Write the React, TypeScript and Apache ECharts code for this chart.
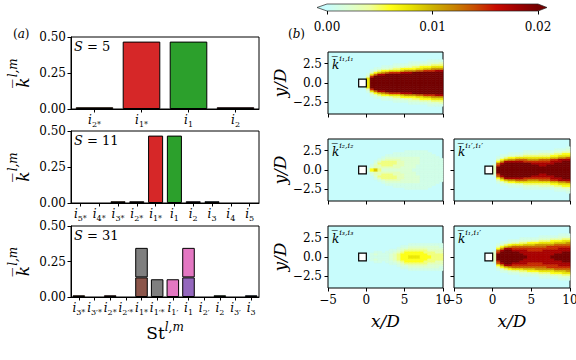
import React, { useEffect, useRef } from 'react';
import * as echarts from 'echarts';

const SERIF = '"DejaVu Serif", "Liberation Serif", serif';

// ---------- bar panels (a) ----------
const S_LABELS = ['5', '11', '31'];

const CATS_S5 = ['2*', '1*', '1', '2'];
const VALUES_S5 = [0.012, 0.468, 0.468, 0.012];
const COLORS_S5 = ['#ff7f0e', '#d62728', '#2ca02c', '#d62728'];

const CATS_S11 = ['5*', '4*', '3*', '2*', '1*', '1', '2', '3', '4', '5'];
const VALUES_S11 = [null, null, 0.012, 0.012, 0.468, 0.468, 0.012, 0.012, null, null];
const COLORS_S11 = ['#ff7f0e', '#ff7f0e', '#ff7f0e', '#8c564b', '#d62728', '#2ca02c', '#9467bd', '#1f77b4', '#1f77b4', '#1f77b4'];

const CATS_S31 = ['3*', '3′*', '2*', '2′*', '1*', '1′*', '1′', '1', '2′', '2', '3′', '3'];
const LOWER_S31 = [0.012, null, 0.012, null, 0.138, 0.125, 0.125, 0.138, null, 0.012, null, 0.012];
const LOWER_COLORS_S31 = ['#ff7f0e', '#7f7f7f', '#d62728', '#7f7f7f', '#8c564b', '#7f7f7f', '#e377c2', '#9467bd', '#7f7f7f', '#2ca02c', '#7f7f7f', '#1f77b4'];
const UPPER_S31 = [null, null, null, null, 0.208, null, null, 0.208, null, null, null, null];
const UPPER_COLORS_S31 = ['#7f7f7f', '#7f7f7f', '#7f7f7f', '#7f7f7f', '#7f7f7f', '#7f7f7f', '#e377c2', '#e377c2', '#e377c2', '#e377c2', '#e377c2', '#e377c2'];

// ---------- colour scale (b) ----------
const SCALE_MIN = 0;
const SCALE_MAX = 0.02;
const SCALE_TICK = 0.01;
const PALETTE = ['#c8fcfc', '#dcffd4', '#eeffa0', '#ffff18', '#e6e000', '#cdb200', '#c88400', '#c84c00', '#c80a00', '#a00000', '#740000'];

// ---------- wake fields (b) ----------
// columns from x/D = 0 to 10 (step 0.5); each string runs from y/D = 0 outward (step 0.25), mirrored about y/D = 0
const FIELD_X0 = 0;
const FIELD_DX = 0.5;
const FIELD_DY = 0.25;
const LEVEL_KEYS = '0123456789abc';
const LEVEL_VALUES = [0, 0.001, 0.002, 0.003, 0.0045, 0.006, 0.0075, 0.009, 0.011, 0.013, 0.015, 0.0175, 0.02];
const CYLINDER = [-1, -0.5, 0, 0.5];

const FIELD_I1_I1 = [
  '6663100000000000', 'ccca631000000000', 'cccc952100000000', 'ccccb74100000000',
  'ccccb85210000000', 'ccccc95210000000', 'ccccca6310000000', 'ccccca6421000000',
  'ccccca6421000000', 'cccccb7521000000', 'cccccb8531000000', 'cccccb8532100000',
  'cccccc8542100000', 'cccccc9642100000', 'cccccc9653100000', 'cccccca753100000',
  'cccccca753210000', 'cccccca864210000', 'ccccccb864210000', 'ccccccb864310000',
];
const FIELD_I2_I2 = [
  '1000000000000000', '5210000000000000', '7332100000000000', '4334310000000000',
  '2344421000000000', '2344432100000000', '2344432100000000', '2334432110000000',
  '2333332110000000', '2233322110000000', '2222222111000000', '2222222111000000',
  '1222222111000000', '1112222111000000', '1111111111000000', '1111111111000000',
  '1111111110000000', '1111111100000000', '1111111000000000', '1111110000000000',
];
const FIELD_I1P_I1P = [
  '3320000000000000', 'cca9531000000000', 'cccb852100000000', 'ccccb74100000000',
  'ccccb85210000000', 'ccccb85210000000', 'ccccb96310000000', 'ccccb96310000000',
  'cccca96421000000', 'cccca86421000000', 'cccba86421000000', 'cccba86421000000',
  'ccbba96431000000', 'ccbba96431000000', 'cccba96431000000', 'cccbba7531000000',
  'ccccba7542100000', 'ccccbb8642100000', 'cccccb8653100000', 'cccccb9653210000',
];
const FIELD_I3_I3 = [
  '0000000000000000', '1100000000000000', '1210000000000000', '1110000000000000',
  '1100000000000000', '1110000000000000', '2211000000000000', '3321000000000000',
  '4432100000000000', '5543210000000000', '5554210000000000', '6554321000000000',
  '6554321000000000', '6554321000000000', '5554321000000000', '5544321000000000',
  '5443221000000000', '4443221000000000', '4433221000000000', '4433211000000000',
];
const FIELD_I1_I1P = [
  '3320000000000000', 'cca9531000000000', 'cccb852100000000', 'ccccb74100000000',
  'ccccb85210000000', 'cccba96310000000', 'cccba96310000000', 'ccbba96421000000',
  'cbbba97421000000', 'bbbaa97521000000', 'bbbaa97531000000', 'bbbaa98531000000',
  'bbbaa98642100000', 'bbbba98642100000', 'bbbbaa8642100000', 'cbbbaa8653100000',
  'ccbbaa9753100000', 'ccbbba9753210000', 'cccbba9764210000', 'cccbba9864210000',
];

const MAP_FIELDS = [FIELD_I1_I1, FIELD_I2_I2, FIELD_I1P_I1P, FIELD_I3_I3, FIELD_I1_I1P];
const MAP_TAGS = ['i₁,i₁', 'i₂,i₂', 'i₁′,i₁′', 'i₃,i₃', 'i₁,i₁′'];
const MAP_Y_TICKS = [-2.5, 0, 2.5];

// ---------- layout ----------
const BAR_GRIDS = [
  { left: 71, top: 37, width: 188, height: 72 },
  { left: 71, top: 131, width: 188, height: 72 },
  { left: 71, top: 226, width: 188, height: 71 },
];
const MAP_GRIDS = [
  { left: 328, top: 52, width: 115, height: 62 },
  { left: 328, top: 139, width: 115, height: 62 },
  { left: 454, top: 139, width: 116, height: 62 },
  { left: 328, top: 226, width: 115, height: 62 },
  { left: 454, top: 226, width: 116, height: 62 },
];
const MAP_SHOW_X = [false, false, false, true, true];
const MAP_SHOW_Y = [true, true, false, true, false];
const CBAR = { left: 327, top: 4, width: 211, height: 7 };

function fieldCells(cols: string[]) {
  const cells: number[][] = [];
  cols.forEach((col, c) => {
    const x0 = FIELD_X0 + c * FIELD_DX;
    for (let r = 0; r < col.length; r++) {
      const v = LEVEL_VALUES[LEVEL_KEYS.indexOf(col[r])];
      if (!v) continue;
      const y0 = r * FIELD_DY;
      cells.push([x0, y0, x0 + FIELD_DX, y0 + FIELD_DY, v]);
      cells.push([x0, -y0 - FIELD_DY, x0 + FIELD_DX, -y0, v]);
    }
  });
  return cells;
}

const minus = (v: number, d: number) => (v < 0 ? '−' + Math.abs(v).toFixed(d) : v.toFixed(d));

const subRich = {
  i: { fontFamily: SERIF, fontStyle: 'italic', fontSize: 12, color: '#000', lineHeight: 14 },
  s: { fontFamily: SERIF, fontSize: 8, color: '#000', verticalAlign: 'bottom', lineHeight: 16 },
};

function buildOption() {
  const grids: any[] = [];
  const xAxes: any[] = [];
  const yAxes: any[] = [];
  const series: any[] = [];
  const graphics: any[] = [];

  const barCats = [CATS_S5, CATS_S11, CATS_S31];
  BAR_GRIDS.forEach((g, k) => {
    grids.push({ ...g, show: true, borderColor: '#000', borderWidth: 1, backgroundColor: 'transparent', containLabel: false, outerBoundsMode: 'none' });
    xAxes.push({
      type: 'category', gridIndex: k, data: barCats[k],
      axisLine: { show: true, onZero: false, lineStyle: { color: '#000', width: 1 } },
      axisTick: { show: true, alignWithLabel: true, length: 3.5, lineStyle: { color: '#000' } },
      axisLabel: { interval: 0, hideOverlap: false, margin: 3, formatter: (v: string) => `{i|i}{s|${v}}`, rich: subRich },
      splitLine: { show: false },
      name: k === 2 ? '{st|St}{sp|l,m}' : '',
      nameLocation: 'middle', nameGap: 24,
      nameTextStyle: {
        rich: {
          st: { fontFamily: SERIF, fontSize: 17, color: '#000', lineHeight: 24 },
          sp: { fontFamily: SERIF, fontStyle: 'italic', fontSize: 12, color: '#000', verticalAlign: 'top', lineHeight: 24 },
        },
      },
    });
    yAxes.push({
      type: 'value', gridIndex: k, min: 0, max: 0.5, interval: 0.25,
      axisLine: { show: true, onZero: false, lineStyle: { color: '#000', width: 1 } },
      axisTick: { show: true, length: 3.5, lineStyle: { color: '#000' } },
      axisLabel: { formatter: (v: number) => v.toFixed(2), fontFamily: SERIF, fontSize: 12, color: '#000', margin: 5 },
      splitLine: { show: false },
      name: '{k|k̅}{s|l,m}', nameLocation: 'middle', nameRotate: 90, nameGap: 40,
      nameTextStyle: {
        rich: {
          k: { fontFamily: SERIF, fontStyle: 'italic', fontSize: 17, color: '#000', lineHeight: 24, verticalAlign: 'bottom' },
          s: { fontFamily: SERIF, fontStyle: 'italic', fontSize: 12, color: '#000', lineHeight: 24, verticalAlign: 'top' },
        },
      },
    });
    graphics.push({
      type: 'text', x: g.left + 3, y: g.top + 3,
      style: {
        text: `{it|S}{n| = ${S_LABELS[k]}}`, align: 'left', verticalAlign: 'top',
        rich: {
          it: { fontFamily: SERIF, fontStyle: 'italic', fontSize: 13, fill: '#000' },
          n: { fontFamily: SERIF, fontSize: 13, fill: '#000' },
        },
      },
    });
  });

  const barBase = { type: 'bar', barWidth: '80%', silent: true, itemStyle: { borderColor: '#000', borderWidth: 1 } };
  const toData = (vals: (number | null)[], cols: string[]) =>
    vals.map((v, i) => (v == null ? '-' : { value: v, itemStyle: { color: cols[i], borderColor: '#000', borderWidth: 1 } }));
  series.push({ ...barBase, xAxisIndex: 0, yAxisIndex: 0, data: toData(VALUES_S5, COLORS_S5) });
  series.push({ ...barBase, xAxisIndex: 1, yAxisIndex: 1, data: toData(VALUES_S11, COLORS_S11) });
  series.push({ ...barBase, xAxisIndex: 2, yAxisIndex: 2, stack: 's31', data: toData(LOWER_S31, LOWER_COLORS_S31) });
  series.push({ ...barBase, xAxisIndex: 2, yAxisIndex: 2, stack: 's31', data: toData(UPPER_S31, UPPER_COLORS_S31) });

  const renderCell = (params: any, api: any) => {
    const a = api.coord([api.value(0), api.value(3)]);
    const b = api.coord([api.value(2), api.value(1)]);
    const color = api.visual('color');
    return {
      type: 'rect',
      shape: { x: a[0], y: a[1], width: b[0] - a[0], height: b[1] - a[1] },
      style: { fill: color, stroke: color, lineWidth: 0.6 },
    };
  };
  const renderCylinder = (params: any, api: any) => {
    const a = api.coord([api.value(0), api.value(3)]);
    const b = api.coord([api.value(2), api.value(1)]);
    return {
      type: 'rect',
      shape: { x: a[0], y: a[1], width: b[0] - a[0], height: b[1] - a[1] },
      style: { fill: '#fff', stroke: '#000', lineWidth: 1.2 },
    };
  };

  const heatIdx: number[] = [];
  MAP_GRIDS.forEach((g, m) => {
    const gi = 3 + m;
    grids.push({ ...g, show: true, borderColor: '#000', borderWidth: 1, backgroundColor: PALETTE[0], containLabel: false, outerBoundsMode: 'none' });
    xAxes.push({
      type: 'value', gridIndex: gi, min: -5, max: 10, interval: 5,
      axisLine: { show: false, onZero: false },
      axisTick: { show: true, length: 3.5, lineStyle: { color: '#000' } },
      axisLabel: { show: MAP_SHOW_X[m], formatter: (v: number) => minus(v, 0), fontFamily: SERIF, fontSize: 12, color: '#000', margin: 6 },
      splitLine: { show: false },
      name: MAP_SHOW_X[m] ? 'x/D' : '', nameLocation: 'middle', nameGap: 24,
      nameTextStyle: { fontFamily: SERIF, fontStyle: 'italic', fontSize: 17, color: '#000' },
    });
    yAxes.push({
      type: 'value', gridIndex: gi, min: -4, max: 4,
      axisLine: { show: false, onZero: false },
      axisTick: { show: true, length: 3.5, lineStyle: { color: '#000' }, customValues: MAP_Y_TICKS },
      axisLabel: { show: MAP_SHOW_Y[m], customValues: MAP_Y_TICKS, formatter: (v: number) => minus(v, 1), fontFamily: SERIF, fontSize: 12, color: '#000', margin: 6 },
      splitLine: { show: false },
      name: MAP_SHOW_Y[m] ? 'y/D' : '', nameLocation: 'middle', nameRotate: 90, nameGap: 33,
      nameTextStyle: { fontFamily: SERIF, fontStyle: 'italic', fontSize: 17, color: '#000' },
    });
    heatIdx.push(series.length);
    series.push({
      type: 'custom', coordinateSystem: 'cartesian2d', xAxisIndex: gi, yAxisIndex: gi, silent: true,
      renderItem: renderCell, encode: { x: [0, 2], y: [1, 3] }, data: fieldCells(MAP_FIELDS[m]), z: 2,
    });
    graphics.push({
      type: 'text', x: g.left + 4, y: g.top + 2,
      style: {
        text: `{k|k̅}{s|${MAP_TAGS[m]}}`, align: 'left', verticalAlign: 'top',
        rich: {
          k: { fontFamily: SERIF, fontStyle: 'italic', fontSize: 12, fill: '#000', lineHeight: 17, verticalAlign: 'bottom' },
          s: { fontFamily: SERIF, fontStyle: 'italic', fontSize: 8, fill: '#000', lineHeight: 17, verticalAlign: 'top' },
        },
      },
      z: 100,
    });
  });
  MAP_GRIDS.forEach((g, m) => {
    series.push({
      type: 'custom', coordinateSystem: 'cartesian2d', xAxisIndex: 3 + m, yAxisIndex: 3 + m, silent: true,
      renderItem: renderCylinder, encode: { x: [0, 2], y: [1, 3] }, data: [CYLINDER], z: 5,
    });
  });

  // colour bar axis
  grids.push({ ...CBAR, show: false, containLabel: false, outerBoundsMode: 'none' });
  xAxes.push({
    type: 'value', gridIndex: 8, min: SCALE_MIN, max: SCALE_MAX, interval: SCALE_TICK, position: 'bottom',
    axisLine: { show: false, onZero: false },
    axisTick: { show: true, length: 3.5, lineStyle: { color: '#000' } },
    axisLabel: { formatter: (v: number) => v.toFixed(2), fontFamily: SERIF, fontSize: 12, color: '#000', margin: 10 },
    splitLine: { show: false },
  });
  yAxes.push({ type: 'value', gridIndex: 8, min: 0, max: 1, show: false });

  const stops = PALETTE.map((c, i) => ({ offset: i / (PALETTE.length - 1), color: c }));
  const cy = CBAR.top + CBAR.height / 2;
  const x1 = CBAR.left + CBAR.width;
  graphics.push(
    { type: 'rect', shape: { x: CBAR.left, y: CBAR.top, width: CBAR.width, height: CBAR.height },
      style: { fill: new echarts.graphic.LinearGradient(0, 0, 1, 0, stops) }, z: 10 },
    { type: 'polygon', shape: { points: [[CBAR.left, CBAR.top], [CBAR.left - 10, cy], [CBAR.left, CBAR.top + CBAR.height]] },
      style: { fill: PALETTE[0] }, z: 10 },
    { type: 'polygon', shape: { points: [[x1, CBAR.top], [x1 + 9, cy], [x1, CBAR.top + CBAR.height]] },
      style: { fill: PALETTE[PALETTE.length - 1] }, z: 10 },
    { type: 'polygon', shape: { points: [[CBAR.left - 10, cy], [CBAR.left, CBAR.top], [x1, CBAR.top], [x1 + 9, cy], [x1, CBAR.top + CBAR.height], [CBAR.left, CBAR.top + CBAR.height]] },
      style: { fill: 'none', stroke: '#222', lineWidth: 0.7 }, z: 11 },
    { type: 'text', x: 13, y: 28, style: { text: '{p|(}{a|a}{p|)}', align: 'left', verticalAlign: 'top',
      rich: { p: { fontFamily: SERIF, fontSize: 12, fill: '#000' }, a: { fontFamily: SERIF, fontStyle: 'italic', fontSize: 12, fill: '#000' } } } },
    { type: 'text', x: 288, y: 28, style: { text: '{p|(}{a|b}{p|)}', align: 'left', verticalAlign: 'top',
      rich: { p: { fontFamily: SERIF, fontSize: 12, fill: '#000' }, a: { fontFamily: SERIF, fontStyle: 'italic', fontSize: 12, fill: '#000' } } } },
  );

  return {
    animation: false,
    backgroundColor: '#fff',
    textStyle: { fontFamily: SERIF, color: '#000' },
    grid: grids,
    xAxis: xAxes,
    yAxis: yAxes,
    visualMap: [{
      type: 'continuous', show: false, min: SCALE_MIN, max: SCALE_MAX, dimension: 4,
      seriesIndex: heatIdx, inRange: { color: PALETTE },
    }],
    series,
    graphic: graphics,
  };
}

export default function App() {
  const ref = useRef<HTMLDivElement>(null);
  useEffect(() => {
    if (!ref.current) return;
    const chart = echarts.init(ref.current, undefined, { renderer: 'svg' });
    chart.setOption(buildOption() as any);
    return () => chart.dispose();
  }, []);
  return <div ref={ref} style={{ position: 'fixed', left: 0, top: 0, width: 576, height: 360 }} />;
}
